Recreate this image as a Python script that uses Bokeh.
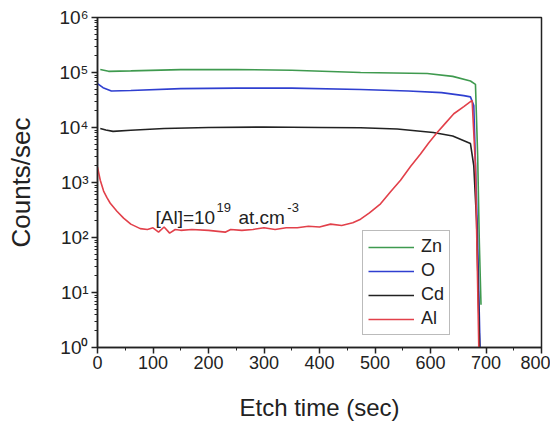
from bokeh.plotting import figure
from bokeh.models import Label, Legend, LegendItem, FixedTicker
from bokeh.embed import file_html
from bokeh.resources import INLINE

# ---- data ----
zn_t = [5, 20, 60, 150, 250, 350, 474, 594, 640, 672, 681, 685, 688, 691]
zn_c = [1.13e5, 1.05e5, 1.07e5, 1.13e5, 1.13e5, 1.1e5, 1.0e5, 9.6e4, 8.5e4, 7.0e4, 6.1e4, 3e3, 80, 6]

o_t = [0, 10, 25, 60, 150, 250, 350, 474, 560, 620, 660, 672, 678, 684, 690]
o_c = [6.3e4, 5.3e4, 4.6e4, 4.7e4, 5.1e4, 5.2e4, 5.2e4, 4.9e4, 4.6e4, 4.3e4, 3.8e4, 3.6e4, 2.5e4, 200, 0.5]

cd_t = [5, 15, 28, 60, 120, 200, 300, 400, 474, 540, 605, 640, 672, 678, 683, 689]
cd_c = [9.6e3, 9.0e3, 8.5e3, 8.9e3, 9.6e3, 1.0e4, 1.02e4, 1.0e4, 9.9e3, 9.4e3, 8.1e3, 7.0e3, 5.1e3, 2.0e3, 200, 0.6]

al_t = [0, 5, 11, 17, 23, 35, 47, 60, 77, 90, 100, 110, 120, 130, 140, 150, 170, 200, 230, 240,
        260, 280, 300, 320, 340, 360, 380, 400, 420, 440, 460, 474, 490, 510, 528, 546,
        564, 582, 597, 612, 627, 642, 660, 675, 681, 687]
al_c = [1.9e3, 1.1e3, 700, 530, 420, 300, 225, 175, 145, 140, 150, 125, 155, 120, 140, 135, 140, 135, 125, 140,
        135, 140, 150, 140, 150, 150, 160, 155, 175, 165, 185, 215, 280, 410, 680, 1.1e3,
        1.95e3, 3.3e3, 5.3e3, 8.1e3, 1.2e4, 1.78e4, 2.4e4, 3.1e4, 2e3, 1.0]

x_ticks = [0, 100, 200, 300, 400, 500, 600, 700, 800]
x_minor = [50, 150, 250, 350, 450, 550, 650, 750]
y_ticks = [1, 10, 100, 1000, 10000, 100000, 1000000]
y_labels = ["10⁰", "10¹", "10²", "10³", "10⁴", "10⁵", "10⁶"]

names = ["Zn", "O", "Cd", "Al"]
colors = ["#3f9a4f", "#2f3fd0", "#222222", "#e2404a"]

FONT = "Liberation Sans"
INK = "#222222"

p = figure(width=550, height=426, x_range=(0, 800), y_range=(1, 1e6), y_axis_type="log",
           output_backend="svg", toolbar_location=None,
           min_border_left=97, min_border_right=9, min_border_top=17, min_border_bottom=79)
p.background_fill_color = "white"
p.border_fill_color = "white"
p.outline_line_color = INK
p.outline_line_width = 1.5
p.grid.visible = False

renderers = []
for t, c, col in zip([zn_t, o_t, cd_t, al_t], [zn_c, o_c, cd_c, al_c], colors):
    r = p.line(t, c, line_color=col, line_width=1.6)
    renderers.append(r)

# axes
p.xaxis.ticker = FixedTicker(ticks=x_ticks, minor_ticks=x_minor)
p.yaxis.ticker = FixedTicker(ticks=y_ticks,
                             minor_ticks=[m * 10 ** e for e in range(0, 6) for m in range(2, 10)])
p.yaxis.major_label_overrides = dict(zip(y_ticks, y_labels))
for ax in (p.xaxis, p.yaxis):
    ax.axis_line_color = INK
    ax.axis_line_width = 1.5
    ax.major_tick_line_color = INK
    ax.minor_tick_line_color = INK
    ax.major_tick_line_width = 1.5
    ax.major_tick_out = 6
    ax.major_tick_in = 0
    ax.minor_tick_out = 3
    ax.minor_tick_in = 0
    ax.major_label_text_font = FONT
    ax.major_label_text_color = INK
    ax.axis_label_text_font = FONT
    ax.axis_label_text_font_style = "normal"
    ax.axis_label_text_color = INK
p.xaxis.major_label_text_font_size = "18px"
p.yaxis.major_label_text_font_size = "19px"
p.xaxis.axis_label = "Etch time (sec)"
p.yaxis.axis_label = "Counts/sec"
p.xaxis.axis_label_text_font_size = "24px"
p.yaxis.axis_label_text_font_size = "26px"
p.xaxis.major_label_standoff = 2
p.xaxis.axis_label_standoff = 22
p.yaxis.major_label_standoff = 3
p.yaxis.axis_label_standoff = 20

# annotation  [Al]=10^19 at.cm^-3
ann_y = 234
sup_y = 351
for x, y, txt, size in [(104.5, ann_y, "[Al]=10", "19px"), (214.5, sup_y, "19", "13px"),
                        (254, ann_y, "at.cm", "19px"), (342, sup_y, "-3", "13px")]:
    p.add_layout(Label(x=x, y=y, text=txt, text_font=FONT, text_font_size=size,
                       text_color=INK, text_baseline="alphabetic"))

legend = Legend(items=[LegendItem(label=n, renderers=[r]) for n, r in zip(names, renderers)],
                location=(265, 12), label_text_font=FONT, label_text_font_size="18px",
                label_text_color=INK, glyph_width=46, glyph_height=20,
                spacing=3, padding=5, margin=0, label_standoff=7,
                border_line_color="#777777", border_line_width=1,
                background_fill_alpha=1.0)
p.add_layout(legend)

open("out.html", "w").write(file_html(p, INLINE))
